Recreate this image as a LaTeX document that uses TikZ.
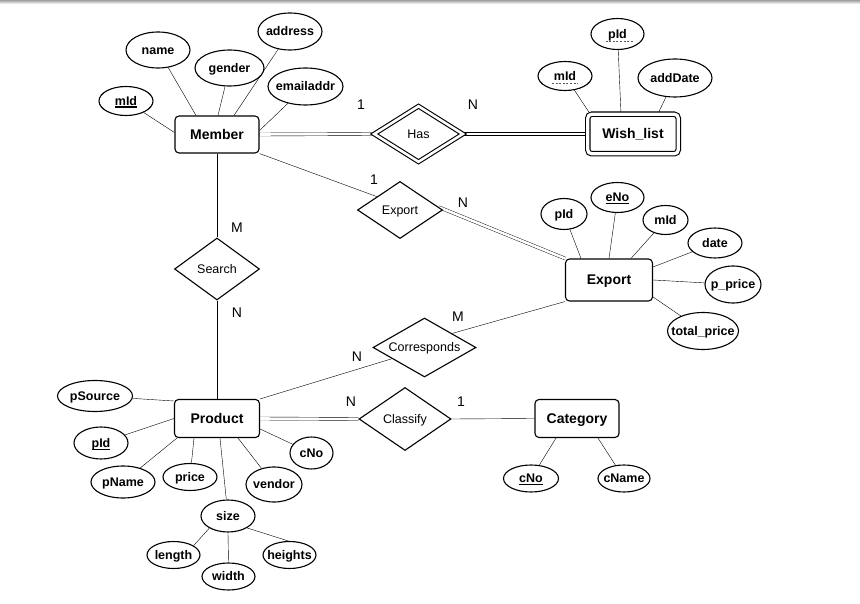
\documentclass[tikz,border=0pt]{standalone}
\usepackage{fontspec}
\setmainfont{Liberation Sans}
\usetikzlibrary{shapes.geometric}
\pgfdeclarelayer{bg}
\pgfsetlayers{bg,main}
% text of zero width, so that the given minimum sizes fix the shape
\newcommand\ct[1]{\makebox[0pt]{#1}}
% key attribute: solid underline
\newcommand\ulkey[1]{\setbox0\hbox{#1}\rlap{\rule[-2.3pt]{\wd0}{1.2pt}}\box0}

\begin{document}
\begin{tikzpicture}[x=1pt,y=-1pt,line width=1.1pt,
  ent/.style={draw,rounded corners=4pt,fill=white,inner sep=0pt,
    text height=9.6pt,text depth=0pt,
    font=\bfseries\fontsize{14}{16}\selectfont},
  rel/.style={draw,diamond,fill=white,inner sep=0pt,
    text height=8.8pt,text depth=0pt,
    font=\fontsize{12.5}{14}\selectfont},
  attr/.style={draw,ellipse,fill=white,inner sep=0pt,
    text height=8.8pt,text depth=0pt,
    font=\bfseries\fontsize{12.5}{14}\selectfont},
  sz/.style 2 args={minimum width=#1pt,minimum height=#2pt},
  card/.style={inner sep=0pt,font=\fontsize{14}{16}\selectfont},
  dbl/.style={double,double distance=2.6pt},
  partkey/.style={dash pattern=on 2pt off 1.6pt,line width=0.9pt,gray!70!black}]

\useasboundingbox (0,0) rectangle (860,604);
% thin shaded rule along the top edge
\shade[top color=gray!75,bottom color=white] (0,0) rectangle (860,4);

% ---------- entities ----------
\node[ent,sz={84}{37}] (member) at (217,134.5) {Member};
\node[ent,sz={90.5}{39.5},double,double distance=3.3pt] (wish) at (633,134) {Wish\_list};
\node[ent,sz={87}{42}] (export) at (609,280) {Export};
\node[ent,sz={85}{38}] (product) at (217,418.5) {Product};
\node[ent,sz={84}{38}] (category) at (577,418.5) {Category};

% ---------- relationships ----------
\node[rel,dbl,sz={89}{56}] (has) at (418.5,134) {\ct{Has}};
\node[rel,sz={85}{57}] (exprel) at (400,210) {\ct{Export}};
\node[rel,sz={85}{62}] (search) at (217,269) {\ct{Search}};
\node[rel,sz={103}{59}] (corr) at (424.5,347.5) {\ct{Corresponds}};
\node[rel,sz={92}{63}] (classify) at (405,419) {\ct{Classify}};

% ---------- attributes of Member ----------
\node[attr,sz={54}{29}] (mmid) at (126,101) {\ct{\ulkey{mId}}};
\node[attr,sz={64}{36}] (mname) at (158,50) {\ct{name}};
\node[attr,sz={69}{36}] (mgender) at (229.5,68) {\ct{gender}};
\node[attr,sz={64}{37}] (maddr) at (290,31.5) {\ct{address}};
\node[attr,sz={75}{37}] (memail) at (305.5,86.5) {\ct{emailaddr}};

% ---------- attributes of Wish_list ----------
\node[attr,sz={54}{29}] (wmid) at (565,76) {\ct{mId}};
\node[attr,sz={53}{31}] (wpid) at (617.5,34) {\ct{pId}};
\node[attr,sz={74}{38}] (wdate) at (675,78) {\ct{addDate}};

% ---------- attributes of Export ----------
\node[attr,sz={46}{31}] (epid) at (564,214) {\ct{pId}};
\node[attr,sz={53}{30}] (eno) at (617.5,197.5) {\ct{\ulkey{eNo}}};
\node[attr,sz={45}{29}] (emid) at (665.5,220) {\ct{mId}};
\node[attr,sz={54}{30}] (edate) at (715,243) {\ct{date}};
\node[attr,sz={56}{37}] (epprice) at (733,284.5) {\ct{p\_price}};
\node[attr,sz={71}{37}] (etotal) at (703,331) {\ct{total\_price}};

% ---------- attributes of Product ----------
\node[attr,sz={75}{31}] (psource) at (95,396) {\ct{pSource}};
\node[attr,sz={54}{32}] (ppid) at (101,443) {\ct{\ulkey{pId}}};
\node[attr,sz={64}{32}] (pname) at (123,482) {\ct{pName}};
\node[attr,sz={54}{27}] (pprice) at (190,477) {\ct{price}};
\node[attr,sz={56}{35}] (pvendor) at (274,484.5) {\ct{vendor}};
\node[attr,sz={43}{32}] (pcno) at (311.5,453) {\ct{cNo}};
\node[attr,sz={54}{32}] (psize) at (228,516) {\ct{size}};
\node[attr,sz={53}{27}] (plength) at (173.5,555) {\ct{length}};
\node[attr,sz={53}{27}] (pwidth) at (228.5,576.5) {\ct{width}};
\node[attr,sz={53}{27}] (pheights) at (289.5,555) {\ct{heights}};

% ---------- attributes of Category ----------
\node[attr,sz={55}{27}] (ccno) at (531,478.5) {\ct{\ulkey{cNo}}};
\node[attr,sz={52}{27}] (cname) at (624,478.5) {\ct{cName}};

% partial keys of the weak entity
\draw[partkey] ([xshift=-13pt,yshift=-2.8pt]wmid.base) -- ([xshift=13pt,yshift=-2.8pt]wmid.base);
\draw[partkey] ([xshift=-12pt,yshift=-2.8pt]wpid.base) -- ([xshift=15pt,yshift=-2.8pt]wpid.base);

% ---------- cardinalities ----------
\node[card] (c1) at (361,105) {1};
\node[card] (c2) at (473,105) {N};
\node[card] (c3) at (374,180) {1};
\node[card] (c4) at (463,203) {N};
\node[card] (c5) at (237,228) {M};
\node[card] (c6) at (237,313) {N};
\node[card] (c7) at (458,317) {M};
\node[card] (c8) at (357,357) {N};
\node[card] (c9) at (351,402) {N};
\node[card] (c10) at (461,402) {1};

% ---------- connectors ----------
\begin{pgfonlayer}{bg}
  % relationships
  \draw[dbl] (member.east) -- (has.west);
  \draw[dbl] (has.east) -- (wish.west);
  \draw (member.south east) -- (exprel.150);
  \draw[dbl] (exprel.4) -- (export.north west);
  \draw (member.south) -- (search.north);
  \draw (search.south) -- (product.north);
  \draw (product.north east) -- (corr.199);
  \draw (corr.27) -- (export.south west);
  \draw[dbl] (product.east) -- (classify.west);
  \draw (classify.east) -- (category.west);
  % Member
  \draw (mmid) -- ([yshift=2pt]member.west);
  \draw (mname) -- ([xshift=-21pt]member.north);
  \draw (mgender) -- ([xshift=1pt]member.north);
  \draw (maddr) -- ([xshift=17pt]member.north);
  \draw (memail) -- ([yshift=4pt]member.east);
  % Wish_list
  \draw (wmid) -- ([xshift=-43pt]wish.north);
  \draw (wpid) -- ([xshift=-12pt]wish.north);
  \draw (wdate) -- ([xshift=25pt]wish.north);
  % Export
  \draw (epid) -- ([xshift=-28pt]export.north);
  \draw (eno) -- (export.north);
  \draw (emid) -- ([xshift=22pt]export.north);
  \draw (edate) -- ([yshift=13pt]export.east);
  \draw (epprice) -- (export.east);
  \draw (etotal) -- ([yshift=-17pt]export.east);
  % Product
  \draw (psource) -- ([yshift=17.5pt]product.west);
  \draw (ppid) -- (product.west);
  \draw (pname) -- ([xshift=-40pt]product.south);
  \draw (pprice) -- ([xshift=-23pt]product.south);
  \draw (psize) -- ([xshift=3pt]product.south);
  \draw (pvendor) -- ([xshift=21pt]product.south);
  \draw (pcno) -- ([yshift=-10.5pt]product.east);
  \draw (psize.213) -- (plength.25);
  \draw (psize.south) -- (pwidth.north);
  \draw (psize.328) -- (pheights.95);
  % Category
  \draw (ccno) -- ([xshift=-21pt]category.south);
  \draw (cname) -- ([xshift=21pt]category.south);
\end{pgfonlayer}
\end{tikzpicture}
\end{document}
